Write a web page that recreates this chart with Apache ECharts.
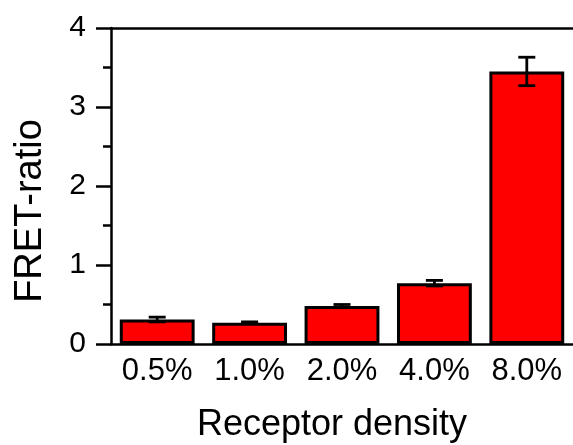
<!DOCTYPE html>
<html>
<head>
<meta charset="utf-8">
<script src="https://cdn.jsdelivr.net/npm/echarts@6/dist/echarts.min.js"></script>
<style>
  html, body { margin: 0; padding: 0; background: #fff; }
  #chart { width: 573px; height: 445px; }
</style>
</head>
<body>
<div id="chart"></div>
<script>
// Receptor densities and measured FRET ratios (mean ± error)
const categories = ['0.5%', '1.0%', '2.0%', '4.0%', '8.0%'];
const fretMean = [0.31, 0.27, 0.48, 0.77, 3.45];
const fretError = [0.03, 0.01, 0.02, 0.035, 0.18];
const yTicks = [0, 1, 2, 3, 4];
const xTitle = 'Receptor density';
const yTitle = 'FRET-ratio';

const FONT = '"Liberation Sans", Arial, sans-serif';
const chart = echarts.init(document.getElementById('chart'), null, { renderer: 'canvas' });

const errorData = categories.map((c, i) => [i, fretMean[i] - fretError[i], fretMean[i] + fretError[i]]);

chart.setOption({
  animation: false,
  grid: { left: 111, top: 28, right: -2, bottom: 101, containLabel: false },
  graphic: [
    {
      type: 'text',
      x: 332, y: 425,
      style: { text: xTitle, font: '36px ' + FONT, fill: '#000', textAlign: 'center', textVerticalAlign: 'middle' }
    },
    {
      type: 'text',
      x: 31, y: 211,
      rotation: Math.PI / 2,
      style: { text: yTitle, font: '38px ' + FONT, fill: '#000', textAlign: 'center', textVerticalAlign: 'middle' }
    }
  ],
  xAxis: [
    {
      type: 'category',
      data: categories,
      position: 'bottom',
      axisLine: { lineStyle: { color: '#000', width: 2.5 } },
      axisTick: { show: false },
      axisLabel: { fontFamily: FONT, fontSize: 31, color: '#000', margin: 12 }
    },
    {
      type: 'category',
      data: categories,
      position: 'top',
      axisLine: { lineStyle: { color: '#000', width: 2.5 } },
      axisTick: { show: false },
      axisLabel: { show: false }
    }
  ],
  yAxis: {
    type: 'value',
    min: yTicks[0],
    max: yTicks[yTicks.length - 1],
    interval: 1,
    axisLine: { show: true, lineStyle: { color: '#000', width: 2.5 } },
    axisTick: { show: true, inside: false, length: 15, lineStyle: { color: '#000', width: 2.5 } },
    minorTick: { show: true, splitNumber: 2, length: 8, lineStyle: { color: '#000', width: 2.5 } },
    splitLine: { show: false },
    axisLabel: { fontFamily: FONT, fontSize: 30, color: '#000', margin: 25 }
  },
  series: [
    {
      type: 'bar',
      data: fretMean,
      barWidth: '81%',
      itemStyle: { color: '#ff0000', borderColor: '#000', borderWidth: 3 },
      z: 2
    },
    {
      type: 'custom',
      data: errorData,
      z: 3,
      renderItem: function (params, api) {
        const idx = api.value(0);
        const lo = api.coord([idx, api.value(1)]);
        const hi = api.coord([idx, api.value(2)]);
        const half = 8.5;
        const style = { stroke: '#000', lineWidth: 2.8, fill: null };
        return {
          type: 'group',
          children: [
            { type: 'line', shape: { x1: hi[0], y1: hi[1], x2: lo[0], y2: lo[1] }, style: style },
            { type: 'line', shape: { x1: hi[0] - half, y1: hi[1], x2: hi[0] + half, y2: hi[1] }, style: style },
            { type: 'line', shape: { x1: lo[0] - half, y1: lo[1], x2: lo[0] + half, y2: lo[1] }, style: style }
          ]
        };
      }
    }
  ]
});
</script>
</body>
</html>
